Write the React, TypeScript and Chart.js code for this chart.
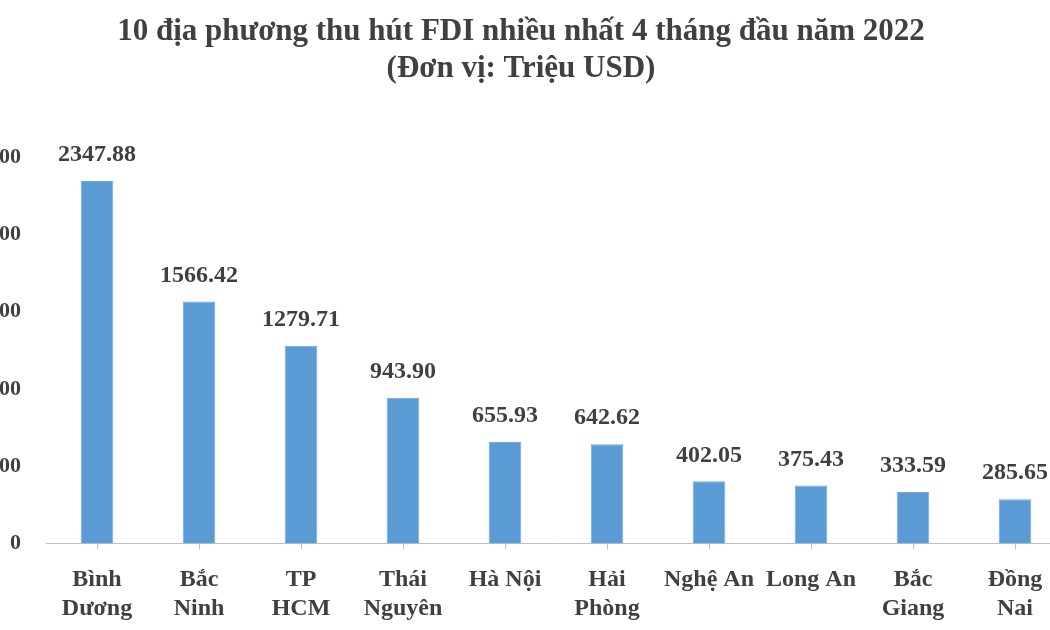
import React, { useEffect, useRef } from "react";
import { Chart, registerables } from "chart.js";

Chart.register(...registerables);

const titleLines = ["10 địa phương thu hút FDI nhiều nhất 4 tháng đầu năm 2022", "(Đơn vị: Triệu USD)"];
const categories: (string | string[])[] = [
  ["Bình", "Dương"],
  ["Bắc", "Ninh"],
  ["TP", "HCM"],
  ["Thái", "Nguyên"],
  "Hà Nội",
  ["Hải", "Phòng"],
  "Nghệ An",
  "Long An",
  ["Bắc", "Giang"],
  ["Đồng", "Nai"],
];
const values = [2347.88, 1566.42, 1279.71, 943.9, 655.93, 642.62, 402.05, 375.43, 333.59, 285.65];
const yTicks = { min: 0, max: 2500, step: 500 };

const FONT = "'Liberation Serif', 'Times New Roman', serif";
const TEXT = "#404040";

const valueLabelPlugin = {
  id: "valueLabels",
  afterDatasetsDraw(chart: any) {
    const ctx = chart.ctx;
    const meta = chart.getDatasetMeta(0);
    ctx.save();
    ctx.font = `bold 24px ${FONT}`;
    ctx.fillStyle = TEXT;
    ctx.textAlign = "center";
    ctx.textBaseline = "bottom";
    meta.data.forEach((bar: any, i: number) => {
      ctx.fillText(values[i].toFixed(2), bar.x, bar.y - 14);
    });
    ctx.restore();
  },
};

export default function App() {
  const ref = useRef<HTMLCanvasElement>(null);
  useEffect(() => {
    if (!ref.current) return;
    const chart = new Chart(ref.current, {
      type: "bar",
      data: {
        labels: categories,
        datasets: [
          {
            data: values,
            backgroundColor: "#5B9BD5",
            borderColor: "#6FA9DD",
            borderWidth: 1,
            barPercentage: 0.32,
            categoryPercentage: 1,
          },
        ],
      },
      options: {
        animation: false,
        responsive: true,
        maintainAspectRatio: false,
        layout: { padding: { top: 0, bottom: 0, left: 0, right: 0 } },
        plugins: {
          legend: { display: false },
          tooltip: { enabled: false },
          title: {
            display: true,
            text: titleLines,
            color: TEXT,
            font: { family: FONT, size: 31, weight: "bold", lineHeight: 1.2 },
            padding: { top: 13, bottom: 70 },
          },
        },
        scales: {
          x: {
            grid: {
              display: true,
              drawOnChartArea: false,
              offset: false,
              tickLength: 6,
              color: "#BFBFBF",
            },
            border: { display: true, color: "#BFBFBF", width: 1 },
            ticks: {
              color: TEXT,
              font: { family: FONT, size: 24, weight: "bold", lineHeight: 1.2 },
              padding: 16,
              maxRotation: 0,
              autoSkip: false,
            },
          },
          y: {
            min: yTicks.min,
            max: yTicks.max,
            afterFit(scale: any) {
              scale.width = 70;
            },
            grid: { display: false },
            border: { display: false },
            ticks: {
              stepSize: yTicks.step,
              color: TEXT,
              font: { family: FONT, size: 22, weight: "bold" },
              padding: 17,
              callback: (v: any) => String(v),
            },
          },
        },
      },
      plugins: [valueLabelPlugin],
    });
    return () => chart.destroy();
  }, []);

  return (
    <div style={{ position: "fixed", left: 0, top: 0, width: 1050, height: 630, overflow: "hidden", background: "#fff" }}>
      <div style={{ position: "absolute", left: -24, top: 0, width: 1090, height: 639 }}>
        <canvas ref={ref} />
      </div>
    </div>
  );
}
